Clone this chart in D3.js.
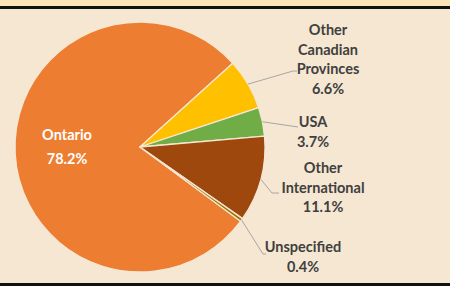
<!DOCTYPE html>
<html>
<head>
<meta charset="utf-8">
<script src="https://cdn.jsdelivr.net/npm/d3@7"></script>
<style>
  html, body { margin: 0; padding: 0; background: #f6e7d2; }
  svg { display: block; }
</style>
</head>
<body>
<div id="content"></div>
<script>
var categories = ['Ontario', 'Other Canadian Provinces', 'USA', 'Other International', 'Unspecified'];
var values = [78.2, 6.6, 3.7, 11.1, 0.4];
var colors = ['#ed7d31', '#ffc000', '#70ad47', '#9e480e', '#997300'];
// how each label is split over lines
var labelLines = [['Ontario'], ['Other', 'Canadian', 'Provinces'], ['USA'], ['Other', 'International'], ['Unspecified']];

var W = 450, H = 286;
var cx = 140, cy = 147, r = 125;

var svg = d3.select('#content').append('svg')
    .attr('width', W)
    .attr('height', H);

// background strip + frame lines
svg.append('rect').attr('x', 0).attr('y', 0).attr('width', W).attr('height', H).attr('fill', '#f6e7d2');
svg.append('rect').attr('x', 0).attr('y', 0).attr('width', W).attr('height', 6).attr('fill', '#fde4b6');
svg.append('rect').attr('x', 0).attr('y', 6).attr('width', W).attr('height', 3).attr('fill', '#111');
svg.append('rect').attr('x', 0).attr('y', 283).attr('width', W).attr('height', 3).attr('fill', '#111');

var data = categories.map(function(c, i) { return { name: c, value: values[i], color: colors[i], lines: labelLines[i] }; });

// first slice starts where Excel rotated it (Ontario ends at ~48deg)
var startDeg = 126.4;
var pie = d3.pie().sort(null).value(function(d) { return d.value; })
    .startAngle(startDeg * Math.PI / 180)
    .endAngle((startDeg + 360) * Math.PI / 180);

var arc = d3.arc().innerRadius(0).outerRadius(r);
var arcs = pie(data);

var g = svg.append('g').attr('transform', 'translate(' + cx + ',' + cy + ')');

g.selectAll('path.slice')
    .data(arcs)
    .enter().append('path')
    .attr('class', 'slice')
    .attr('d', arc)
    .attr('fill', function(d) { return d.data.color; })
    .attr('stroke', '#f6e7d2')
    .attr('stroke-width', 1.3)
    .attr('stroke-linejoin', 'round');

// label layout: text anchor point (centre of first line) and leader elbow, relative to pie centre
var labelPos = [
    { tx: -73, ty: -12, inside: true },
    { tx: 188, ty: -117, elbow: [153, -76], end: [157, -76] },
    { tx: 173, ty: -25, elbow: [158, -20], end: [158, -20] },
    { tx: 183, ty: 21, elbow: [132, 46], end: [139, 46] },
    { tx: 163, ty: 100, elbow: [123, 107], end: [126, 107] }
];

var fontFamily = 'Lato, "Open Sans", sans-serif';
var lineH = 19.5;

arcs.forEach(function(a, i) {
    var p = labelPos[i];
    var mid = (a.startAngle + a.endAngle) / 2;
    if (!p.inside) {
        var sx = Math.sin(mid) * r, sy = -Math.cos(mid) * r;
        g.append('polyline')
            .attr('points', [[sx, sy], p.elbow, p.end].map(function(q) { return q.join(','); }).join(' '))
            .attr('fill', 'none')
            .attr('stroke', '#a6a6a6')
            .attr('stroke-width', 1);
    }
    var lines = a.data.lines.concat([d3.format('.1f')(a.data.value) + '%']);
    var t = g.append('text')
        .attr('text-anchor', 'middle')
        .attr('font-family', fontFamily)
        .attr('font-weight', 'bold')
        .attr('font-size', '14.5px')
        .attr('fill', p.inside ? '#ffffff' : '#404040');
    lines.forEach(function(s, k) {
        t.append('tspan')
            .attr('x', p.tx)
            .attr('y', p.ty + k * (p.inside ? 24 : lineH))
            .attr('dy', '0.35em')
            .text(s);
    });
});
</script>
</body>
</html>
